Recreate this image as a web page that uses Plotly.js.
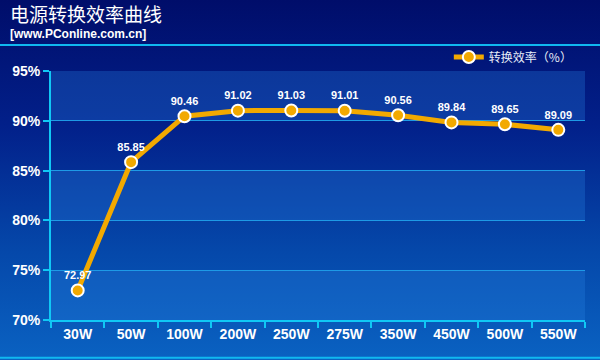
<!DOCTYPE html>
<html><head><meta charset="utf-8">
<script src="https://cdn.plot.ly/plotly-3.0.1.min.js"></script>
<style>
html,body{margin:0;padding:0;}
#bg{position:absolute;left:0;top:0;width:600px;height:360px;background:linear-gradient(to bottom,#000d6a 0%,#02208a 35%,#0548aa 70%,#0a62c2 100%);}
#chart{position:absolute;left:0;top:0;width:600px;height:360px;}
</style></head>
<body>
<div id="bg"></div>
<div id="chart"></div>
<script>
const categories = ["30W","50W","100W","200W","250W","275W","350W","450W","500W","550W"];
const efficiency = [72.97,85.85,90.46,91.02,91.03,91.01,90.56,89.84,89.65,89.09];
const yTicks = [70,75,80,85,90,95];
const yTickLabels = ["70%","75%","80%","85%","90%","95%"];
const bandRanges = [[70,75],[80,85],[90,95]];
const seriesName = "转换效率（%）";

const bands = bandRanges.map(r => ({type:'rect', xref:'paper', yref:'y', x0:0, x1:1, y0:r[0], y1:r[1],
  fillcolor:'rgba(40,130,225,0.30)', line:{width:0}, layer:'below'}));

const trace = {
  x: categories, y: efficiency, type:'scatter', mode:'lines+markers+text', name: seriesName,
  text: efficiency.map(v => v.toFixed(2)), textposition:'top center',
  textfont:{family:'Liberation Sans, Arial, sans-serif', size:11, color:'#ffffff', weight:'bold'},
  line:{color:'#f2a900', width:5},
  marker:{color:'#f2a900', size:12, line:{color:'#ffffff', width:2}},
  cliponaxis:false
};

const layout = {
  width:600, height:360,
  margin:{l:51, r:15, t:71, b:40},
  paper_bgcolor:'rgba(0,0,0,0)', plot_bgcolor:'rgba(0,0,0,0)',
  showlegend:true,
  legend:{x:0.745, y:1.056, xanchor:'left', yanchor:'middle', orientation:'h',
    bgcolor:'rgba(0,0,0,0)', font:{family:'Noto Sans CJK SC, sans-serif', size:12, color:'#e8eef8'}},
  xaxis:{type:'category', range:[-0.5, categories.length-0.5], tickson:'boundaries', ticks:'outside', ticklen:6, tickcolor:'#10c8f5', tickwidth:2,
    showline:true, linecolor:'#10c8f5', linewidth:2, showgrid:false, zeroline:false,
    tickfont:{family:'Liberation Sans, Arial, sans-serif', size:14, color:'#ffffff', weight:'bold'}, fixedrange:true},
  yaxis:{range:[70,95], tickvals:yTicks, ticktext:yTickLabels, ticks:'outside', ticklen:6, tickcolor:'#10c8f5', tickwidth:2,
    showline:true, linecolor:'#10c8f5', linewidth:2, showgrid:true, gridcolor:'#1e9ae6', gridwidth:1.2, zeroline:false,
    tickfont:{family:'Liberation Sans, Arial, sans-serif', size:14, color:'#ffffff', weight:'bold'}, fixedrange:true},
  shapes: bands.concat([
    {type:'line', xref:'paper', yref:'paper', x0:-0.2, x1:1.1, y0:1.1044, y1:1.1044, line:{color:'#10b8f0', width:2}},
    {type:'line', xref:'paper', yref:'paper', x0:-0.2, x1:1.1, y0:-0.152, y1:-0.152, line:{color:'#10b8f0', width:2}}
  ]),
  annotations:[
    {text:'电源转换效率曲线', xref:'paper', yref:'paper', x:-0.081, y:1.229, xanchor:'left', yanchor:'middle', showarrow:false,
      font:{family:'Noto Sans CJK SC, sans-serif', size:19, color:'#ffffff'}},
    {text:'<b>[www.PConline.com.cn]</b>', xref:'paper', yref:'paper', x:-0.081, y:1.1466, xanchor:'left', yanchor:'middle', showarrow:false,
      font:{family:'Liberation Sans, Arial, sans-serif', size:12, color:'#ffffff'}}
  ]
};

Plotly.newPlot('chart', [trace], layout, {displayModeBar:false, staticPlot:true});
</script>
</body></html>
